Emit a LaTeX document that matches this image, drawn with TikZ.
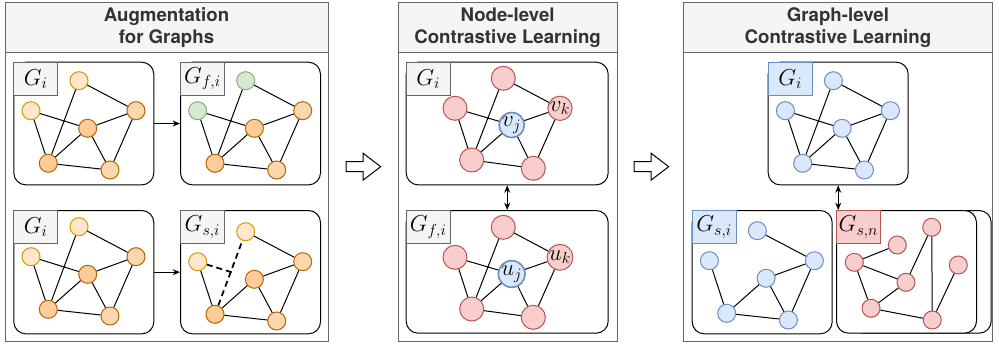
\documentclass[tikz,border=0pt]{standalone}
\usepackage{fontspec}
\newfontfamily\titlefont{TeX Gyre Heros}
\usetikzlibrary{arrows.meta,calc}
\definecolor{olfill}{HTML}{FFE6CC}
\definecolor{olstroke}{HTML}{D79B00}
\definecolor{omfill}{HTML}{FAD7AC}
\definecolor{omstroke}{HTML}{B46504}
\definecolor{odfill}{HTML}{FFCC99}
\definecolor{odstroke}{HTML}{B46504}
\definecolor{gfill}{HTML}{D5E8D4}
\definecolor{gstroke}{HTML}{82B366}
\definecolor{bfill}{HTML}{DAE8FC}
\definecolor{bstroke}{HTML}{6C8EBF}
\definecolor{rfill}{HTML}{F8CECC}
\definecolor{rstroke}{HTML}{B85450}
\definecolor{hdrfill}{HTML}{F5F5F5}
\definecolor{hdrstroke}{HTML}{666666}
\definecolor{titlec}{HTML}{333333}
\newcommand\augnodes[4]{%
  \node[#2] (#1t) at (65.7,19) {};
  \node[#2] (#1l) at (17.7,49) {};
  \node[#3] (#1r) at (122.7,49) {};
  \node[#4] (#1c) at (74.4,66.6) {};
  \node[#4] (#1bl) at (35,101.6) {};
  \node[#3] (#1br) at (96.7,108.3) {};
}
\newcommand\augfull[1]{%
  \draw (#1t)--(#1bl) (#1t)--(#1r) (#1l)--(#1c) (#1l)--(#1bl) (#1c)--(#1r)
        (#1c)--(#1bl) (#1c)--(#1br) (#1r)--(#1br) (#1bl)--(#1br);
}
\newcommand\augpart[1]{%
  \draw (#1t)--(#1r) (#1l)--(#1bl) (#1c)--(#1r)
        (#1c)--(#1bl) (#1c)--(#1br) (#1r)--(#1br) (#1bl)--(#1br);
}
\newcommand\midnodes[2]{%
  \node[nrd,big] (#1t) at (97.6,16.6) {};
  \node[nrd,big] (#1l) at (49.3,46.6) {};
  \node[nrd,big] (#1k) at (154.3,46.6) {$#2_k$};
  \node[nbl,big,line width=1.2pt] (#1j) at (106,63.3) {$#2_j$};
  \node[nrd,big] (#1bl) at (66,98.3) {};
  \node[nrd,big] (#1br) at (127.6,106.6) {};
  \draw (#1t)--(#1bl) (#1t)--(#1k) (#1l)--(#1j) (#1l)--(#1bl) (#1j)--(#1k)
        (#1j)--(#1bl) (#1j)--(#1br) (#1k)--(#1br) (#1bl)--(#1br);
}
\begin{document}
\begin{tikzpicture}[x=0.75pt,y=-0.75pt,line width=0.75pt,
  >={Stealth[length=5.5pt,width=4.5pt]},
  panel/.style={draw=hdrstroke,fill=white},
  header/.style={draw=hdrstroke,fill=hdrfill},
  title/.style={font=\titlefont\bfseries\fontsize{14}{16.5}\selectfont,text=titlec,align=center},
  gbox/.style={draw=black,fill=white,rounded corners=9pt,anchor=north west,inner sep=0pt},
  lbl/.style={draw=hdrstroke,fill=hdrfill,anchor=north west,inner sep=0pt,
    minimum width=33pt,minimum height=25pt,font=\fontsize{16.5}{16.5}\selectfont},
  lblb/.style={lbl,draw=bstroke,fill=bfill},
  lblr/.style={lbl,draw=rstroke,fill=rfill},
  nbase/.style={circle,draw,inner sep=0pt,minimum size=13.5pt},
  nlo/.style={nbase,fill=olfill,draw=olstroke},
  nmo/.style={nbase,fill=omfill,draw=omstroke},
  ndo/.style={nbase,fill=odfill,draw=odstroke},
  ngr/.style={nbase,fill=gfill,draw=gstroke},
  nbl/.style={nbase,fill=bfill,draw=bstroke},
  nrd/.style={nbase,fill=rfill,draw=rstroke},
  big/.style={minimum size=18pt,font=\fontsize{17}{17}\selectfont},
  dashedge/.style={line width=1.3pt,dash pattern=on 4.5pt off 3pt},
  blockarrow/.style={draw=black,fill=white,line width=0.75pt}]
\useasboundingbox (0,0) rectangle (999,346);

% panels
\draw[panel] (5,2.5) rectangle (328,341.7);
\draw[header] (5,2.5) rectangle (328,53);
\node[title] (t1) at (166.5,28) {Augmentation\\for Graphs};
\draw[panel] (398.3,2.5) rectangle (617,341.7);
\draw[header] (398.3,2.5) rectangle (617,53);
\node[title] (t2) at (507.6,28) {Node-level\\Contrastive Learning};
\draw[panel] (683.3,2.5) rectangle (992.5,341.7);
\draw[header] (683.3,2.5) rectangle (992.5,53);
\node[title] (t3) at (837.9,28) {Graph-level\\Contrastive Learning};

% block arrows
\draw[blockarrow] (346,161.7) -- (363,161.7) -- (363,153.2) -- (380.7,166.7) -- (363,180.2) -- (363,171.7) -- (346,171.7) -- cycle;
\draw[blockarrow] (634,161.7) -- (651,161.7) -- (651,153.2) -- (668.7,166.7) -- (651,180.2) -- (651,171.7) -- (634,171.7) -- cycle;

% ---------- panel 1 ----------
\node[gbox,minimum width=105pt,minimum height=92pt] (b1) at (13.3,61.7) {};
\node[gbox,minimum width=105pt,minimum height=92pt] (b2) at (180,61.7) {};
\node[gbox,minimum width=105pt,minimum height=92.5pt] (b3) at (13.3,210) {};
\node[gbox,minimum width=105pt,minimum height=92.5pt] (b4) at (180,210) {};
\node[lbl] (b1l) at (b1.north west) {$G_i$};
\node[lbl] (b2l) at (b2.north west) {$G_{f,i}$};
\node[lbl] (b3l) at (b3.north west) {$G_i$};
\node[lbl] (b4l) at (b4.north west) {$G_{s,i}$};
\draw[->] (b1.east) -- (b2.west);
\draw[->] (b3.east) -- (b4.west);

\begin{scope}[shift={(13.3,61.7)}]
  \augnodes{a}{nlo}{nmo}{ndo}
  \augfull{a}
\end{scope}
\begin{scope}[shift={(180,61.7)}]
  \augnodes{f}{ngr}{nmo}{ndo}
  \augfull{f}
\end{scope}
\begin{scope}[shift={(13.3,207.7)}]
  \augnodes{g}{nlo}{nmo}{ndo}
  \augfull{g}
\end{scope}
\begin{scope}[shift={(180,212.7)}]
  \augnodes{s}{nlo}{nmo}{ndo}
  \augpart{s}
  \coordinate (sm) at ($(sl)!0.66!(sc)$);
  \draw[dashedge] (sl) -- (sm);
  \draw[dashedge] (sbl) -- (st);
\end{scope}

% ---------- panel 2 ----------
\node[gbox,minimum width=151.5pt,minimum height=92pt] (m1) at (405.7,61.7) {};
\node[gbox,minimum width=151.5pt,minimum height=92pt] (m2) at (405.7,210) {};
\node[lbl] (m1l) at (m1.north west) {$G_i$};
\node[lbl] (m2l) at (m2.north west) {$G_{f,i}$};
\draw[<->] (m1.south) -- (m2.north);
\begin{scope}[shift={(405.7,61.7)}]
  \midnodes{p}{v}
\end{scope}
\begin{scope}[shift={(405.7,210.7)}]
  \midnodes{q}{u}
\end{scope}

% ---------- panel 3 ----------
\node[gbox,minimum width=105pt,minimum height=92pt] (r1) at (767.7,61.7) {};
\node[gbox,minimum width=105pt,minimum height=92.5pt] (r2) at (691.7,210) {};
\node[gbox,minimum width=105pt,minimum height=92pt] (r4) at (850.7,210) {};
\node[gbox,minimum width=105pt,minimum height=92pt] (r3) at (836,210) {};
\node[lblb] (r1l) at (r1.north west) {$G_i$};
\node[lblb] (r2l) at (r2.north west) {$G_{s,i}$};
\node[lblr] (r3l) at (r3.north west) {$G_{s,n}$};
\draw[<->] (r1.south) -- (r1.south |- r3.north);

\begin{scope}[shift={(767.7,61.7)}]
  \augnodes{x}{nbl}{nbl}{nbl}
  \augfull{x}
\end{scope}
\begin{scope}[shift={(691.7,211.7)}]
  \augnodes{y}{nbl}{nbl}{nbl}
  \augpart{y}
\end{scope}

\node[nrd] (na) at (931.7,227.3) {};
\node[nrd] (nb) at (897.3,245) {};
\node[nrd] (nc) at (854.3,262.3) {};
\node[nrd] (nd) at (958.3,265) {};
\node[nrd] (ne) at (906,282.3) {};
\node[nrd] (nf) at (871,308.3) {};
\node[nrd] (ng) at (932.3,320) {};
\draw (nc)--(nb) (nc)--(ne) (nc)--(nf) (ne)--(na) (na)--(ng) (nd)--(ng) (nf)--(ne) (nf)--(ng);
\end{tikzpicture}
\end{document}
